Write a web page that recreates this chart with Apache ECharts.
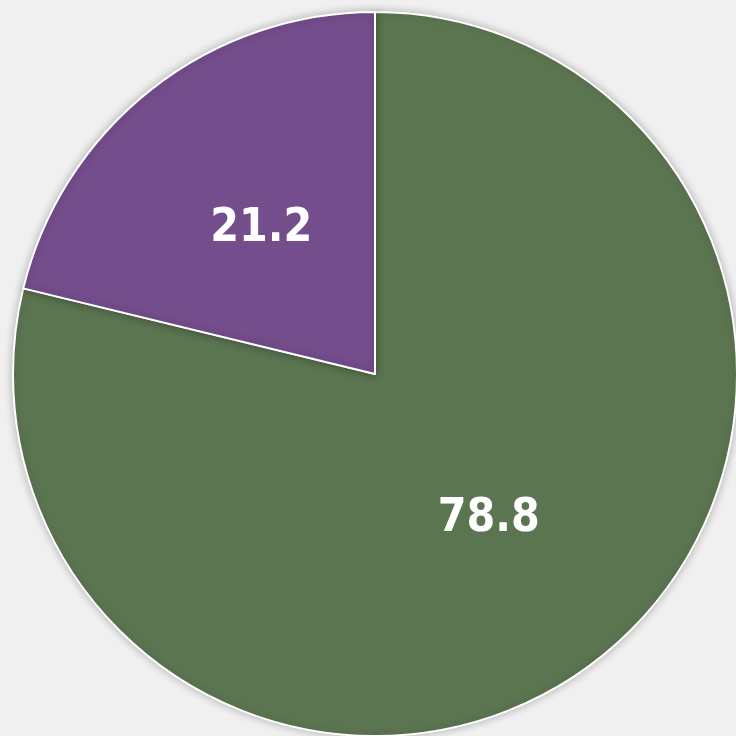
<!DOCTYPE html>
<html><head><meta charset="utf-8">
<script src="https://cdn.jsdelivr.net/npm/echarts@6/dist/echarts.min.js"></script>
<style>html,body{margin:0;padding:0;background:#f0f0f0;}#c{width:736px;height:736px;}</style>
</head><body><div id="c"></div>
<script>
var categories = ['A', 'B'];
var values = [78.8, 21.2];
var colors = ['#5c7551', '#744d8c'];
var chart = echarts.init(document.getElementById('c'));
chart.setOption({
  backgroundColor: '#f0f0f0',
  animation: false,
  series: [{
    type: 'pie',
    center: [375, 374],
    radius: [0, 362],
    startAngle: 90,
    clockwise: true,
    data: categories.map(function (c, i) { return { name: c, value: values[i], itemStyle: { color: colors[i] } }; }),
    itemStyle: { borderColor: '#ffffff', borderWidth: 2, shadowBlur: 8, shadowColor: 'rgba(0,0,0,0.25)' },
    label: {
      position: 'inside',
      formatter: function (p) { return p.value.toFixed(1); },
      color: '#ffffff',
      fontFamily: '"Liberation Sans Narrow", "DejaVu Sans Condensed", "Roboto Condensed", sans-serif',
      fontWeight: 'bold',
      fontSize: 46,
      padding: [8, 0, 0, 0]
    },
    labelLine: { show: false }
  }]
});
</script></body></html>
